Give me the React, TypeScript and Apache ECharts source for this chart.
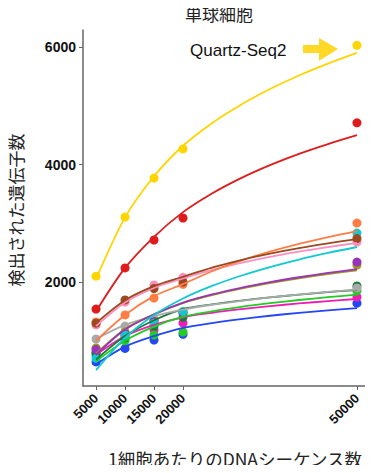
import React, { useEffect, useRef } from "react";
import * as echarts from "echarts";

// Sequencing depth per cell (x)
const depths = [5000, 10000, 15000, 20000, 50000];
const curveDepths = [5000, 10000, 15000, 20000, 25000, 30000, 35000, 40000, 45000, 50000];
const xTicks = [5000, 10000, 15000, 20000, 50000];
const yTicks = [2000, 4000, 6000];

// Series names and colours
const names = [
  "blue", "magenta", "green", "darkgreen", "gray", "olive", "purple",
  "cyan", "pink", "orange", "brown", "red", "Quartz-Seq2",
];
const colors = [
  "#2446F5", "#F01CB4", "#22CC22", "#1B7A3A", "#AAAAAA", "#9C9A1C", "#9933BB",
  "#12C9D0", "#FF8FBF", "#FF7D45", "#9A4A1E", "#E01B1B", "#FFD500",
];

// Detected genes (points)
const pointValues = [
  [640, 870, 1013, 1110, 1640],
  [800, 1100, 1183, 1302, 1745],
  [750, 1000, 1098, 1149, 1850],
  [790, 1050, 1250, 1400, 1932],
  [1030, 1250, 1370, 1480, 1900],
  [877, 1150, 1353, 1490, 2290],
  [850, 1120, 1330, 1470, 2340],
  [700, 1100, 1300, 1500, 2834],
  [1270, 1660, 1950, 2080, 2680],
  [1320, 1440, 1727, 1960, 3004],
  [1300, 1695, 1890, 2000, 2740],
  [1540, 2240, 2715, 3090, 4710],
  [2100, 3105, 3770, 4265, 6030],
];

// Fitted curves (values read at curveDepths)
const curveValues = [
  [600, 900, 1080, 1220, 1302, 1369, 1426, 1475, 1518, 1557],
  [760, 1080, 1270, 1400, 1476, 1537, 1590, 1635, 1675, 1711],
  [650, 1000, 1240, 1410, 1501, 1576, 1639, 1694, 1742, 1785],
  [680, 1080, 1350, 1540, 1619, 1683, 1738, 1785, 1827, 1864],
  [1030, 1270, 1420, 1530, 1613, 1680, 1738, 1787, 1831, 1870],
  [780, 1200, 1450, 1640, 1776, 1888, 1982, 2064, 2136, 2200],
  [760, 1190, 1450, 1650, 1789, 1902, 1998, 2081, 2154, 2220],
  [500, 1050, 1440, 1720, 1933, 2107, 2255, 2383, 2495, 2596],
  [1250, 1650, 1900, 2060, 2207, 2327, 2430, 2518, 2595, 2665],
  [1000, 1440, 1760, 1965, 2184, 2364, 2517, 2649, 2764, 2868],
  [1300, 1690, 1930, 2090, 2246, 2374, 2482, 2576, 2658, 2732],
  [1500, 2240, 2770, 3190, 3508, 3769, 3990, 4182, 4349, 4500],
  [2050, 3100, 3800, 4320, 4704, 5018, 5285, 5516, 5718, 5900],
];

const titleText = "単球細胞";
const xName = "1細胞あたりのDNAシーケンス数";
const yName = "検出された遺伝子数";
const annotation = "Quartz-Seq2";

const jp = "'Noto Sans CJK JP', 'Noto Sans', sans-serif";
const latin = "'Liberation Sans', Arial, sans-serif";

export default function App() {
  const ref = useRef<HTMLDivElement>(null);
  useEffect(() => {
    if (!ref.current) return;
    const chart = echarts.init(ref.current, null, { renderer: "svg" });
    const series: any[] = [];
    names.forEach((n, i) => {
      series.push({
        name: n + "-pts",
        type: "scatter",
        data: depths.map((d, j) => [d, pointValues[i][j]]),
        symbolSize: 9,
        itemStyle: { color: colors[i], opacity: 1 },
        silent: true,
        z: 2,
      });
    });
    names.forEach((n, i) => {
      series.push({
        name: n,
        type: "line",
        data: curveDepths.map((d, j) => [d, curveValues[i][j]]),
        smooth: 0.3,
        showSymbol: false,
        lineStyle: { color: colors[i], width: 1.8 },
        silent: true,
        z: 3,
      });
    });
    chart.setOption({
      animation: false,
      backgroundColor: "#ffffff",
      grid: { left: 83, right: 3, top: 30, bottom: 87, containLabel: false },
      xAxis: {
        type: "value",
        min: 2750,
        max: 52250,
        splitLine: { show: false },
        axisLine: { show: true, lineStyle: { color: "#666", width: 1.5 } },
        axisTick: {
          show: true,
          length: 4,
          lineStyle: { color: "#666", width: 1 },
          customValues: xTicks,
        },
        axisLabel: {
          customValues: xTicks,
          rotate: 45,
          margin: 10,
          fontSize: 13,
          fontWeight: "bold",
          color: "#111",
          fontFamily: latin,
          formatter: (v: number) => String(v),
        },
      },
      yAxis: {
        type: "value",
        min: 230,
        max: 6290,
        splitLine: { show: false },
        axisLine: { show: true, lineStyle: { color: "#666", width: 1.5 } },
        axisTick: {
          show: true,
          length: 4,
          lineStyle: { color: "#666", width: 1 },
          customValues: yTicks,
        },
        axisLabel: {
          customValues: yTicks,
          margin: 7,
          fontSize: 14,
          fontWeight: "bold",
          color: "#111",
          fontFamily: latin,
          formatter: (v: number) => String(v),
        },
      },
      series,
      graphic: [
        {
          type: "text",
          left: 185,
          top: 5,
          style: { text: titleText, fontSize: 17, fill: "#222", fontFamily: jp },
        },
        {
          type: "text",
          x: 235,
          y: 458,
          style: {
            text: xName,
            fontSize: 17.5,
            fill: "#222",
            fontFamily: jp,
            align: "center",
            verticalAlign: "middle",
          },
        },
        {
          type: "text",
          x: 15,
          y: 210,
          rotation: Math.PI / 2,
          style: {
            text: yName,
            fontSize: 17,
            fill: "#222",
            fontFamily: jp,
            align: "center",
            verticalAlign: "middle",
          },
        },
        {
          type: "text",
          x: 190,
          y: 50,
          style: {
            text: annotation,
            fontSize: 17,
            fill: "#111",
            fontFamily: latin,
            align: "left",
            verticalAlign: "middle",
          },
        },
        {
          type: "polygon",
          shape: {
            points: [
              [303, 45], [319, 45], [319, 38], [338, 49],
              [319, 61], [319, 53], [303, 53],
            ],
          },
          style: { fill: "#FFD828" },
        },
      ],
    });
    return () => chart.dispose();
  }, []);
  return <div ref={ref} style={{ width: 373, height: 473, margin: -8 }} />;
}
